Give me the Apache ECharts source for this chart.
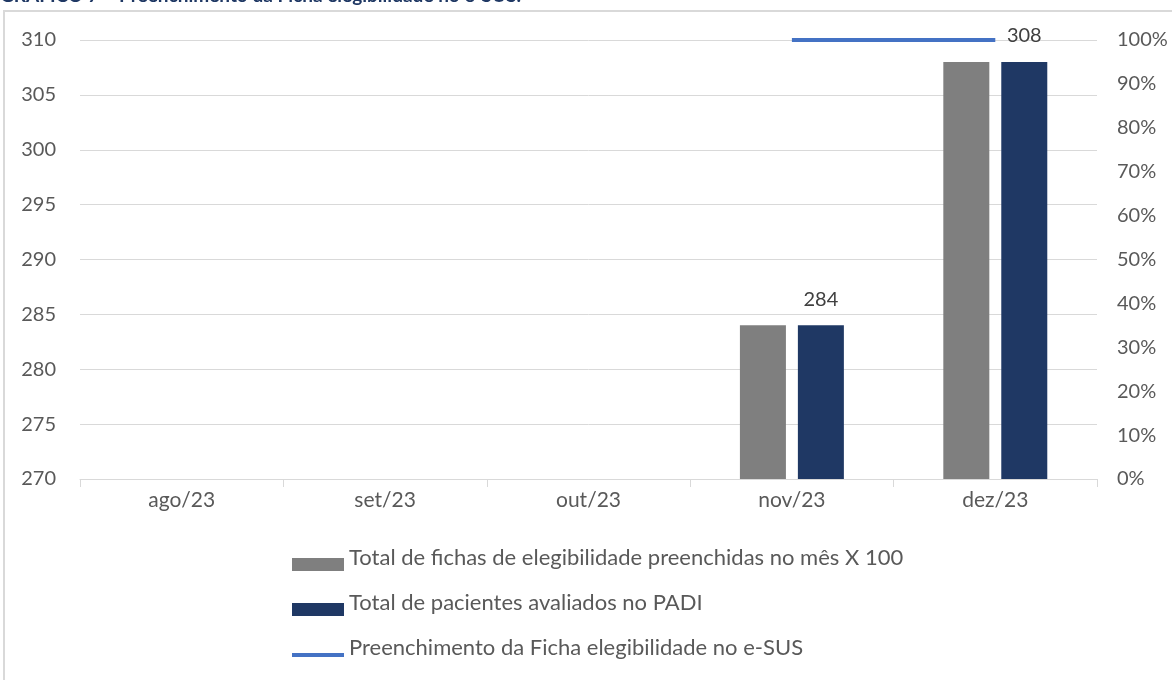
<!DOCTYPE html>
<html>
<head>
<meta charset="utf-8">
<title>Gráfico 7</title>
<script src="https://cdn.jsdelivr.net/npm/echarts@6/dist/echarts.min.js"></script>
<style>
  html, body { margin: 0; padding: 0; background: #fff; }
  #chart { width: 1172px; height: 680px; }
</style>
</head>
<body>
<div id="chart"></div>
<script>
// dados do gráfico
var meses = ['ago/23', 'set/23', 'out/23', 'nov/23', 'dez/23'];
var fichas = [null, null, null, 284, 308];
var pacientes = [null, null, null, 284, 308];
var preenchimento = [null, null, null, 1, 1];

var nomeFichas = 'Total de fichas de elegibilidade preenchidas no mês X 100';
var nomePacientes = 'Total de pacientes avaliados no PADI';
var nomePreench = 'Preenchimento da Ficha elegibilidade no e-SUS';

var fonte = 'Lato';
var cinzaTexto = '#595959';
var cinzaLinha = '#d9d9d9';

// ícones da legenda um pouco abaixo do centro do texto
var iconeBarra = 'path://M0,0 M0,13 L52,13 L52,26 L0,26 Z';
var iconeLinha = 'path://M0,0 M0,18 L52,18 L52,22 L0,22 M52,26';

var myChart = echarts.init(document.getElementById('chart'));
var option = {
    backgroundColor: '#fff',
    textStyle: { fontFamily: fonte },
    animation: false,
    graphic: [
        {
            type: 'text',
            left: 0,
            top: -14,
            style: {
                text: 'GRÁFICO 7 – Preenchimento da Ficha elegibilidade no e-SUS.',
                font: 'bold 19px Lato',
                fill: '#1F3864'
            }
        },
        {
            type: 'rect',
            shape: { x: 4, y: 11, width: 1300, height: 800 },
            style: { fill: 'none', stroke: cinzaLinha, lineWidth: 2 },
            silent: true
        }
    ],
    grid: {
        left: 80,
        right: 75,
        top: 40,
        bottom: 201
    },
    legend: {
        orient: 'vertical',
        left: 292,
        top: 545,
        padding: 0,
        itemWidth: 52,
        itemHeight: 26,
        itemGap: 19,
        textStyle: {
            color: cinzaTexto,
            fontSize: 22,
            lineHeight: 22,
            fontFamily: fonte
        },
        data: [
            { name: nomeFichas, icon: iconeBarra },
            { name: nomePacientes, icon: iconeBarra },
            { name: nomePreench, icon: iconeLinha }
        ]
    },
    xAxis: {
        type: 'category',
        data: meses,
        axisLine: { lineStyle: { color: cinzaLinha, width: 1 } },
        axisTick: { show: true, length: 8, lineStyle: { color: cinzaLinha } },
        axisLabel: { color: cinzaTexto, fontSize: 21, margin: 11, fontFamily: fonte }
    },
    yAxis: [
        {
            type: 'value',
            min: 270,
            max: 310,
            interval: 5,
            axisLine: { show: false },
            axisTick: { show: false },
            splitLine: { lineStyle: { color: cinzaLinha, width: 1 } },
            axisLabel: { color: cinzaTexto, fontSize: 20, margin: 24, fontFamily: fonte }
        },
        {
            type: 'value',
            min: 0,
            max: 1,
            interval: 0.1,
            position: 'right',
            axisLine: { show: false },
            axisTick: { show: false },
            splitLine: { show: false },
            axisLabel: {
                color: cinzaTexto,
                fontSize: 20,
                margin: 20,
                fontFamily: fonte,
                formatter: function (v) { return Math.round(v * 100) + '%'; }
            }
        }
    ],
    series: [
        {
            name: nomeFichas,
            type: 'bar',
            data: fichas,
            barWidth: 46,
            barGap: '26%',
            itemStyle: { color: '#7F7F7F' }
        },
        {
            name: nomePacientes,
            type: 'bar',
            data: pacientes,
            barWidth: 46,
            itemStyle: { color: '#1F3864' },
            label: {
                show: true,
                position: 'top',
                distance: 16,
                color: '#404040',
                fontSize: 20,
                fontFamily: fonte
            }
        },
        {
            name: nomePreench,
            type: 'line',
            yAxisIndex: 1,
            data: preenchimento,
            symbol: 'none',
            clip: false,
            lineStyle: { color: '#4472C4', width: 4 },
            itemStyle: { color: '#4472C4' }
        }
    ]
};

option && myChart.setOption(option);
window.addEventListener('resize', function () {
    myChart.resize();
});
</script>
</body>
</html>
